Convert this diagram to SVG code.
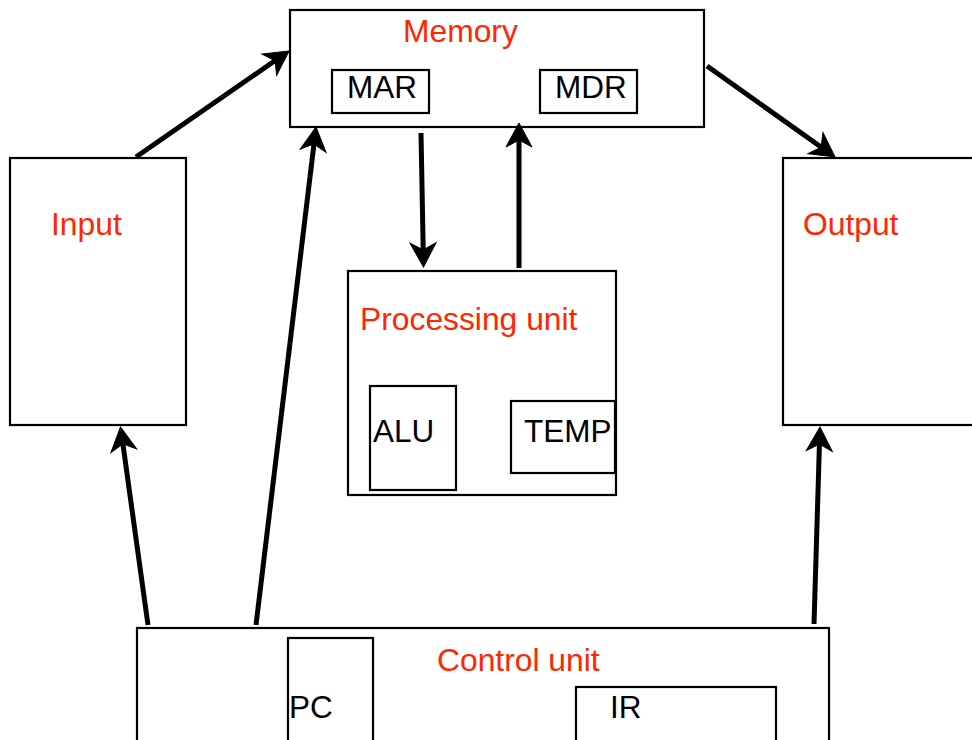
<svg xmlns="http://www.w3.org/2000/svg" xmlns:xlink="http://www.w3.org/1999/xlink" width="972" height="740" viewBox="0 0 972 740">
<style>
.box{fill:#fff;stroke:#000;stroke-width:2.2}
.inner{fill:none;stroke:#000;stroke-width:2.2}
.title{font-family:"Liberation Sans",Arial,sans-serif;font-size:31.8px;fill:#ff2600}
.lbl{font-family:"Liberation Sans",Arial,sans-serif;font-size:31.5px;fill:#000}
.conn{stroke:#000;stroke-width:5;fill:none}
.head{fill:#000;stroke:#000;stroke-width:1;stroke-linejoin:miter}
</style>
<defs>
<path id="ah" class="head" d="M0,0 L-24,-13 L-17,0 L-24,13 Z"/>
</defs>
<rect width="972" height="740" fill="#fff"/>
<g id="memory">
<rect class="box" x="290" y="10" width="414" height="117"/>
<text class="title" x="403" y="42">Memory</text>
<g id="mar"><rect class="inner" x="332" y="70" width="97" height="43"/><text class="lbl" x="347" y="98">MAR</text></g>
<g id="mdr"><rect class="inner" x="540" y="70" width="97" height="43"/><text class="lbl" x="555" y="98">MDR</text></g>
</g>
<g id="input">
<rect class="box" x="10" y="158" width="176" height="267"/>
<text class="title" x="51" y="235">Input</text>
</g>
<g id="output">
<rect class="box" x="783" y="158" width="200" height="267"/>
<text class="title" x="803" y="235">Output</text>
</g>
<g id="processing">
<rect class="box" x="348" y="271" width="268" height="224"/>
<text class="title" x="360" y="330">Processing unit</text>
<g id="alu"><rect class="inner" x="370" y="386" width="86" height="104"/><text class="lbl" x="373" y="442">ALU</text></g>
<g id="temp"><rect class="inner" x="511" y="401" width="104" height="72"/><text class="lbl" x="524" y="442">TEMP</text></g>
</g>
<g id="control">
<rect class="box" x="137" y="628" width="692" height="140"/>
<text class="title" x="437" y="671">Control unit</text>
<g id="pc"><rect class="inner" x="288" y="638" width="85" height="130"/><text class="lbl" x="289" y="718">PC</text></g>
<g id="ir"><rect class="inner" x="576" y="687" width="200" height="80"/><text class="lbl" x="610" y="718">IR</text></g>
</g>
<g id="connectors">
<line class="conn" x1="136" y1="157" x2="279.1" y2="57.8"/>
<use xlink:href="#ah" href="#ah" transform="translate(289,51) rotate(-34.7)"/>
<line class="conn" x1="256" y1="625" x2="314.6" y2="138.9"/>
<use xlink:href="#ah" href="#ah" transform="translate(316,127) rotate(-83.1)"/>
<line class="conn" x1="148" y1="625" x2="122.2" y2="438.9"/>
<use xlink:href="#ah" href="#ah" transform="translate(120.5,427) rotate(-97.9)"/>
<line class="conn" x1="707" y1="66" x2="825.2" y2="150"/>
<use xlink:href="#ah" href="#ah" transform="translate(835,157) rotate(35.4)"/>
<line class="conn" x1="814" y1="624" x2="819.6" y2="439"/>
<use xlink:href="#ah" href="#ah" transform="translate(820,427) rotate(-88.3)"/>
<line class="conn" x1="421" y1="133" x2="423.3" y2="255"/>
<use xlink:href="#ah" href="#ah" transform="translate(423.5,267) rotate(88.9)"/>
<line class="conn" x1="519" y1="268" x2="519" y2="135"/>
<use xlink:href="#ah" href="#ah" transform="translate(519,123) rotate(-90)"/>
</g>
</svg>
